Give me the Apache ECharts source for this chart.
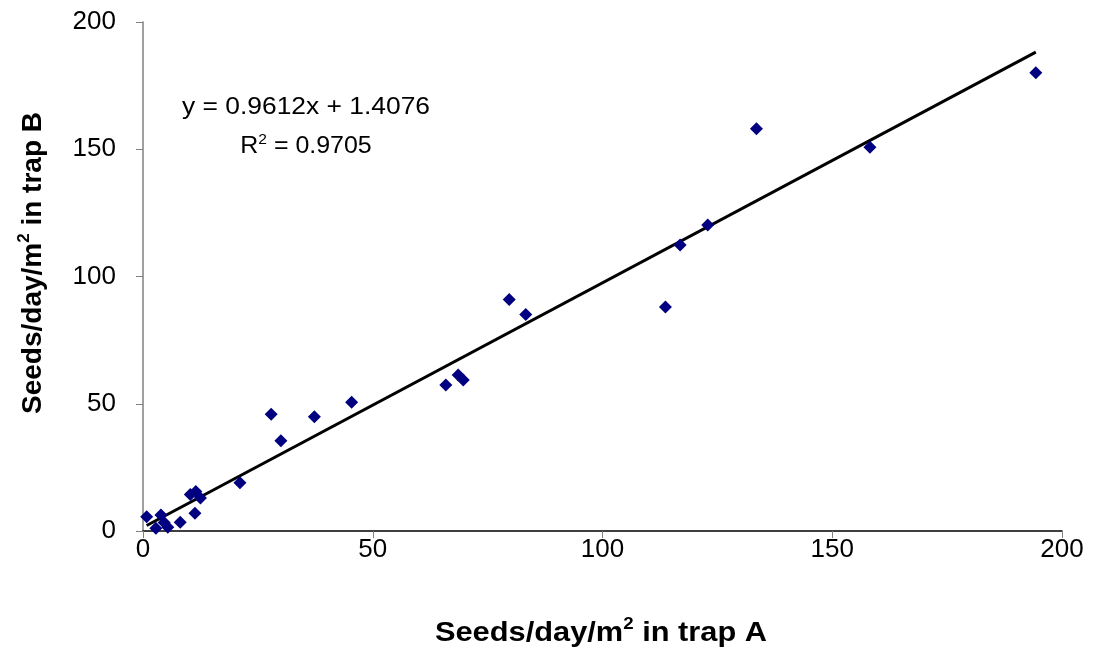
<!DOCTYPE html>
<html>
<head>
<meta charset="utf-8">
<script src="https://cdn.jsdelivr.net/npm/echarts@6/dist/echarts.min.js"></script>
<style>
  html, body { margin: 0; padding: 0; background: #fff; }
  #chart { width: 1095px; height: 653px; }
</style>
</head>
<body>
<div id="chart"></div>
<script>
// Seeds/day/m² caught in trap A (x) vs trap B (y)
const trapA = [0.8, 2.8, 3.9, 4.6, 5.4, 8.1, 11.3, 10.3, 11.5, 12.5, 21.1, 27.9, 30.0, 37.3, 45.4,
               65.9, 68.6, 69.7, 79.7, 83.3, 113.7, 116.9, 122.9, 133.5, 158.2, 194.3];
const trapB = [5.6, 1.1, 6.3, 3.3, 1.5, 3.4, 7.0, 14.3, 15.5, 13.0, 19.0, 45.9, 35.5, 44.9, 50.6,
               57.4, 61.3, 59.3, 91.0, 85.1, 88.0, 112.4, 120.2, 158.1, 150.8, 180.1];

// Linear trend line coefficients
const slope = 0.9612;
const intercept = 1.4076;
const rSquared = 0.9705;

const axisTicks = [0, 50, 100, 150, 200];

const points = trapA.map((x, i) => [x, trapB[i]]);
const xMin = Math.min(...trapA);
const xMax = Math.max(...trapA);
const trend = [[xMin, slope * xMin + intercept], [xMax, slope * xMax + intercept]];

const font = '"Liberation Sans", Arial, sans-serif';
const titleSup = { fontSize: 17, fontWeight: 'bold', fontFamily: font, fill: '#000', verticalAlign: 'top', padding: [0, 0, 17, 0] };
const eqSup = { fontSize: 15, fontFamily: font, fill: '#000', verticalAlign: 'top', padding: [0, 0, 13, 0] };

const chart = echarts.init(document.getElementById('chart'));
chart.setOption({
  animation: false,
  backgroundColor: '#ffffff',
  grid: { left: 143, right: 33, top: 22, bottom: 122, containLabel: false },
  xAxis: {
    type: 'value',
    min: axisTicks[0], max: axisTicks[axisTicks.length - 1], interval: 50,
    axisLine: { show: true, lineStyle: { color: '#000', width: 1.5 } },
    axisTick: { show: true, inside: false, length: 7, lineStyle: { color: '#808080' } },
    axisLabel: { fontFamily: font, fontSize: 26, color: '#000', margin: 6 },
    splitLine: { show: false }
  },
  yAxis: {
    type: 'value',
    min: axisTicks[0], max: axisTicks[axisTicks.length - 1], interval: 50,
    axisLine: { show: true, lineStyle: { color: '#808080', width: 1.5 } },
    axisTick: { show: true, inside: false, length: 7, lineStyle: { color: '#808080' } },
    axisLabel: { fontFamily: font, fontSize: 26, color: '#000', margin: 27 },
    splitLine: { show: false }
  },
  series: [
    {
      type: 'line',
      data: trend,
      symbol: 'none',
      lineStyle: { color: '#000', width: 3 },
      z: 3
    },
    {
      type: 'scatter',
      data: points,
      symbol: 'diamond',
      symbolSize: 13,
      itemStyle: { color: '#000080', opacity: 1 },
      z: 4
    }
  ],
  graphic: [
    // trend line equation and fit
    {
      type: 'text', x: 306, y: 107, scaleX: 1.1,
      style: {
        text: 'y = ' + slope.toFixed(4) + 'x + ' + intercept.toFixed(4),
        font: '24px ' + font, fill: '#000',
        textAlign: 'center', textVerticalAlign: 'middle'
      }
    },
    {
      type: 'text', x: 306, y: 146, scaleX: 1.04,
      style: {
        text: 'R{sup|2} = ' + rSquared.toFixed(4),
        font: '24px ' + font, fill: '#000',
        textAlign: 'center', textVerticalAlign: 'middle',
        rich: { sup: eqSup }
      }
    },
    // axis titles
    {
      type: 'text', x: 601, y: 633, scaleX: 1.1,
      style: {
        text: 'Seeds/day/m{sup|2} in trap A',
        font: 'bold 28px ' + font, fill: '#000',
        textAlign: 'center', textVerticalAlign: 'middle',
        rich: { sup: titleSup }
      }
    },
    {
      type: 'text', x: 33, y: 263, rotation: Math.PI / 2,
      style: {
        text: 'Seeds/day/m{sup|2} in trap B',
        font: 'bold 28px ' + font, fill: '#000',
        textAlign: 'center', textVerticalAlign: 'middle',
        rich: { sup: titleSup }
      }
    }
  ]
});
</script>
</body>
</html>
